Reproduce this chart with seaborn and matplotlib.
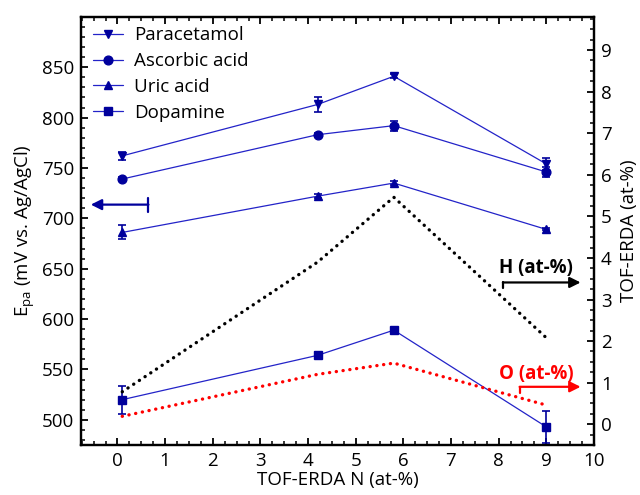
import numpy as np
import pandas as pd
import matplotlib
matplotlib.use("Agg")
import matplotlib.pyplot as plt
from matplotlib.lines import Line2D
import seaborn as sns
from matplotlib.ticker import MultipleLocator

# ---- data ----
x_n = [0.1, 4.2, 5.8, 9.0]
paracetamol = [762, 813, 841, 754]
paracetamol_err = [4, 7, 2, 6]
ascorbic = [739, 783, 792, 746]
ascorbic_err = [2, 2, 5, 5]
uric = [686, 722, 735, 689]
uric_err = [7, 2, 2, 1]
dopamine = [520, 564, 589, 493]
dopamine_err = [14, 3, 2, 16]
h_at = [0.78, 3.9, 5.46, 2.08]
o_at = [0.19, 1.2, 1.47, 0.46]

series_names = ["Paracetamol", "Ascorbic acid", "Uric acid", "Dopamine"]
series_vals = [paracetamol, ascorbic, uric, dopamine]
series_errs = [paracetamol_err, ascorbic_err, uric_err, dopamine_err]
series_markers = ["v", "o", "^", "s"]

sns.set_style("ticks")
plt.rcParams['font.family'] = ['Open Sans', 'DejaVu Sans']
plt.rcParams['mathtext.fontset'] = 'custom'
plt.rcParams['mathtext.rm'] = 'Open Sans'
plt.rcParams['mathtext.it'] = 'Open Sans'
plt.rcParams['text.color'] = 'black'
plt.rcParams['axes.labelcolor'] = 'black'
plt.rcParams['axes.edgecolor'] = 'black'
plt.rcParams['xtick.color'] = 'black'
plt.rcParams['ytick.color'] = 'black'

FS = 13.5
navy = "#00009c"
line_blue = "#2323c8"

fig, ax = plt.subplots(figsize=(6.4, 4.95), dpi=100)
fig.subplots_adjust(left=0.127, right=0.928, top=0.966, bottom=0.101)

handles = []
for name, vals, errs, m in zip(series_names, series_vals, series_errs, series_markers):
    ax.plot(x_n, vals, '-', color=line_blue, lw=0.9, zorder=2)
    ax.errorbar(x_n, vals, yerr=errs, fmt='none', ecolor=navy,
                elinewidth=1.2, capsize=3, capthick=1.2, zorder=3)
    ax.plot(x_n, vals, linestyle='none', marker=m, color=navy, ms=6.3, zorder=4)
    handles.append(Line2D([], [], color=line_blue, lw=0.9, marker=m, mfc=navy,
                          mec=navy, ms=6.3, label=name))

ax.set_xlim(-0.76, 10)
ax.set_ylim(475, 900)
ax.xaxis.set_major_locator(MultipleLocator(1))
ax.xaxis.set_minor_locator(MultipleLocator(0.25))
ax.set_yticks(np.arange(500, 851, 50))
ax.yaxis.set_minor_locator(MultipleLocator(10))
ax.tick_params(axis='both', which='major', direction='in', length=5, width=1.3,
               labelsize=FS, pad=5, color='black', labelcolor='black')
ax.tick_params(axis='both', which='minor', direction='in', length=3, width=1.1, color='black')
ax.tick_params(axis='x', which='both', top=True)
ax.tick_params(axis='y', which='both', right=False)
for sp in ax.spines.values():
    sp.set_linewidth(1.6)
    sp.set_color('black')
ax.set_xlabel("TOF-ERDA N (at-%)", fontsize=FS, labelpad=1)
ax.set_ylabel("E$_{\\mathrm{pa}}$ (mV vs. Ag/AgCl)", fontsize=FS, labelpad=4)

ax.legend(handles=handles, loc='upper left', frameon=False, fontsize=FS, handlelength=1.6,
          borderaxespad=0.1, labelspacing=0.42, handletextpad=0.6,
          bbox_to_anchor=(0.005, 1.0))

# left arrow
ax.annotate("", xy=(-0.56, 713.6), xytext=(0.65, 713.6),
            arrowprops=dict(arrowstyle='-|>', color=navy, lw=1.6, mutation_scale=16,
                            shrinkA=0, shrinkB=0))
ax.plot([0.65, 0.65], [706.5, 720.5], color=navy, lw=1.6)

# right axis
ax2 = ax.twinx()
df_h = pd.DataFrame({"x": x_n, "y": h_at})
df_o = pd.DataFrame({"x": x_n, "y": o_at})
sns.lineplot(data=df_h, x="x", y="y", ax=ax2, color="black", lw=2.4,
             linestyle=(0, (0.05, 2.0)), solid_capstyle='round', dash_capstyle='round')
sns.lineplot(data=df_o, x="x", y="y", ax=ax2, color="#ff0000", lw=2.4,
             linestyle=(0, (0.05, 2.0)), solid_capstyle='round', dash_capstyle='round')
ax2.set_ylim(-0.5, 9.8)
ax2.set_xlim(-0.76, 10)
ax2.yaxis.set_major_locator(MultipleLocator(1))
ax2.yaxis.set_minor_locator(MultipleLocator(0.25))
ax2.tick_params(axis='y', which='major', direction='in', length=5, width=1.3,
                labelsize=FS, pad=5, color='black', labelcolor='black')
ax2.tick_params(axis='y', which='minor', direction='in', length=3, width=1.1, color='black')
ax2.set_ylabel("TOF-ERDA (at-%)", fontsize=FS, labelpad=6)
ax2.set_xlabel("")
for sp in ax2.spines.values():
    sp.set_linewidth(1.6)
    sp.set_color('black')

# H and O annotations
ax2.text(8.0, 3.75, "H (at-%)", fontsize=FS, fontweight='bold', color='black',
         ha='left', va='center')
ax2.annotate("", xy=(9.72, 3.41), xytext=(8.09, 3.41),
             arrowprops=dict(arrowstyle='-|>', color='black', lw=1.6, mutation_scale=16,
                             shrinkA=0, shrinkB=0))
ax2.plot([8.09, 8.09], [3.41, 3.27], color='black', lw=1.6)

ax2.text(8.0, 1.22, "O (at-%)", fontsize=FS, fontweight='bold', color='#ff0000',
         ha='left', va='center')
ax2.annotate("", xy=(9.72, 0.9), xytext=(8.44, 0.9),
             arrowprops=dict(arrowstyle='-|>', color='#ff0000', lw=1.6, mutation_scale=16,
                             shrinkA=0, shrinkB=0))
ax2.plot([8.44, 8.44], [0.9, 0.76], color='#ff0000', lw=1.6)

fig.savefig("out.png", dpi=100)
